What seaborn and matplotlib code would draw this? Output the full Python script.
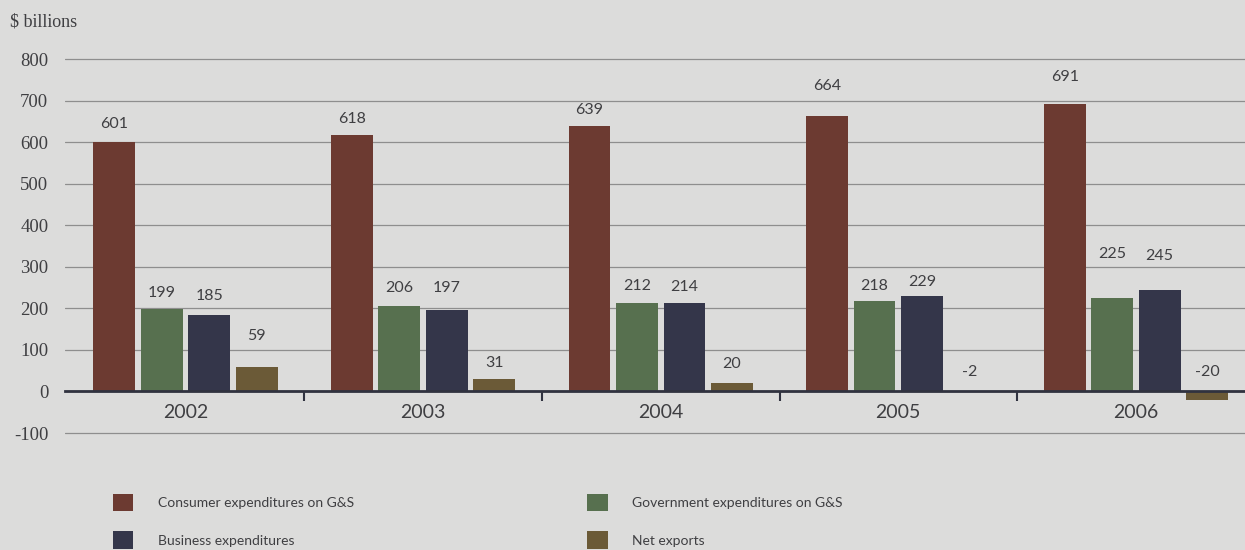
import pandas as pd
import seaborn as sns
from matplotlib import pyplot as plt
from matplotlib.ticker import FixedLocator

# datos ($ billions)
years = ['2002', '2003', '2004', '2005', '2006']
series = ['Consumer expenditures on G&S', 'Government expenditures on G&S',
          'Business expenditures', 'Net exports']
consumer = [601, 618, 639, 664, 691]
government = [199, 206, 212, 218, 225]
business = [185, 197, 214, 229, 245]
net_exports = [59, 31, 20, -2, -20]
y_ticks = [-100, 0, 100, 200, 300, 400, 500, 600, 700, 800]

colors = ['#6c3a31', '#57704f', '#34364a', '#6b5a37']
# separacion de las etiquetas sobre cada barra (px), como en el original
label_pad = [
    [18, 16, 16, 30, 27],
    [16, 18, 17, 15, 44],
    [19, 22, 16, 14, 34],
    [31, 16, 19, 19, 19],
]

df = pd.DataFrame({
    'year': years * 4,
    'serie': [s for s in series for _ in years],
    'valor': consumer + government + business + net_exports,
})

bg = '#dcdcdb'
txt = '#3f3f42'
sans = ['Lato', 'DejaVu Sans']
serif = ['Liberation Serif', 'DejaVu Serif']

sns.set_style('white')
plt.rcParams['axes.unicode_minus'] = False
fig = plt.figure(figsize=(12.45, 5.5), dpi=100, facecolor=bg)
ax = fig.add_axes([65 / 1245, 0.2089, 1 - 65 / 1245, 0.6876])
ax.set_facecolor(bg)

sns.barplot(data=df, x='year', y='valor', hue='serie', hue_order=series,
            palette=colors, saturation=1, width=0.8, gap=0.12, linewidth=0, ax=ax)

ax.set_xlim(-0.507, 4.459)
ax.set_ylim(-105, 805)
ax.set_yticks(y_ticks)
ax.set_xlabel('')
ax.set_ylabel('')

# lineas de referencia
ax.set_axisbelow(True)
ax.yaxis.grid(True, color='#8e8e8e', linewidth=0.9)
for side in ['top', 'right', 'left']:
    ax.spines[side].set_visible(False)
ax.spines['bottom'].set_position(('data', 0))
ax.spines['bottom'].set_color('#30323f')
ax.spines['bottom'].set_linewidth(2)

ax.tick_params(axis='y', length=0, pad=12, labelsize=13.5, labelcolor=txt)
for lab in ax.get_yticklabels():
    lab.set_family(serif)
ax.tick_params(axis='x', which='major', length=0, pad=9, labelsize=14, labelcolor=txt)
for lab in ax.get_xticklabels():
    lab.set_family(sans)
ax.xaxis.set_minor_locator(FixedLocator([0.5, 1.5, 2.5, 3.5]))
ax.tick_params(axis='x', which='minor', bottom=True, length=7, width=1.5,
               color='#30323f', direction='out')

# etiquetas de valores
for cont, vals, pads in zip(ax.containers, [consumer, government, business, net_exports], label_pad):
    for bar, v, p in zip(cont, vals, pads):
        ax.annotate(str(v), (bar.get_x() + bar.get_width() / 2, max(v, 0)),
                    xytext=(0, p * 0.72), textcoords='offset points',
                    ha='center', va='center', fontsize=11.5, color=txt, family=sans)

fig.text(10 / 1245, 1 - 22 / 550, '$ billions', fontsize=13, color=txt,
         family=serif, va='center', ha='left')

# leyenda en dos columnas
handles, labels = ax.get_legend_handles_labels()
ax.get_legend().remove()
order = [0, 2, 1, 3]
fig.legend([handles[i] for i in order], [labels[i] for i in order],
           loc='upper left', bbox_to_anchor=(100 / 1245, 1 - 481 / 550), ncol=2,
           frameon=False, labelcolor=txt, prop={'family': sans, 'size': 10},
           handlelength=1.5, handleheight=1.6, handletextpad=1.75,
           columnspacing=16.8, labelspacing=1.45)

fig.savefig('out.png', dpi=100, facecolor=bg)
